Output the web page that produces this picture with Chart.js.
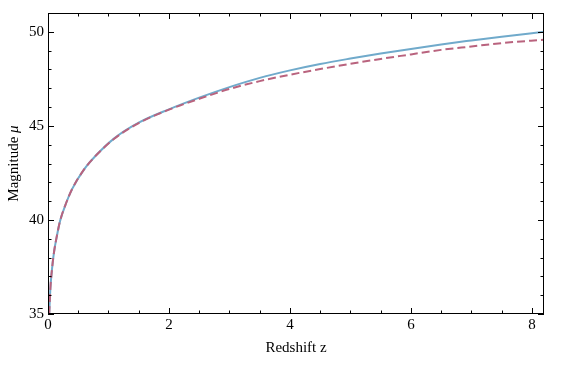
<!DOCTYPE html>
<html>
<head>
<meta charset="utf-8">
<script src="https://cdn.jsdelivr.net/npm/chart.js@4.4.1/dist/chart.umd.min.js"></script>
<style>
    html, body { margin: 0; padding: 0; background: #fff; }
    #wrap { width: 562px; height: 369px; }
</style>
</head>
<body>
<div id="wrap"><canvas id="chart"></canvas></div>
<script>
// values
const redshift = [0.02, 0.04, 0.07, 0.1, 0.15, 0.2, 0.3, 0.4, 0.6, 0.8, 1.1, 1.5, 2.0, 2.5, 3.0, 3.5, 4.0, 4.5, 5.0, 5.5, 6.0, 6.5, 7.0, 7.5, 8.2];
const muSolid = [35.0, 36.4, 37.5, 38.3, 39.2, 39.95, 40.9, 41.65, 42.7, 43.45, 44.35, 45.17, 45.88, 46.5, 47.06, 47.55, 47.95, 48.29, 48.58, 48.85, 49.09, 49.33, 49.54, 49.74, 50.0];
const muDashed = [35.0, 36.4, 37.5, 38.3, 39.2, 39.95, 40.9, 41.65, 42.7, 43.45, 44.33, 45.15, 45.86, 46.44, 46.96, 47.38, 47.72, 48.02, 48.3, 48.56, 48.8, 49.04, 49.22, 49.4, 49.58];
const xTickLabels = [0, 2, 4, 6, 8];
const yTickLabels = [35, 40, 45, 50];
const xMinorStep = 0.5;

const serif = "'Liberation Serif', 'DejaVu Serif', serif";

function toPoints(xs, ys) {
    return xs.map((x, i) => ({ x: x, y: ys[i] }));
}

// frame with inward ticks on all four sides + y title with italic mu
const frameTicks = {
    id: 'frameTicks',
    afterDraw(chart) {
        const ctx = chart.ctx;
        const area = chart.chartArea;
        const xs = chart.scales.x;
        const ys = chart.scales.y;
        ctx.save();
        ctx.strokeStyle = '#000';
        ctx.lineWidth = 1;
        ctx.strokeRect(area.left + 0.5, area.top + 0.5, area.right - area.left - 1, area.bottom - area.top - 1);
        ctx.beginPath();
        xs.ticks.forEach(t => {
            const px = Math.round(xs.getPixelForValue(t.value)) + 0.5;
            const len = xTickLabels.includes(t.value) ? 6 : 3.5;
            ctx.moveTo(px, area.bottom);
            ctx.lineTo(px, area.bottom - len);
            ctx.moveTo(px, area.top);
            ctx.lineTo(px, area.top + len);
        });
        ys.ticks.forEach(t => {
            const py = Math.round(ys.getPixelForValue(t.value)) + 0.5;
            const len = yTickLabels.includes(t.value) ? 6 : 3.5;
            ctx.moveTo(area.left, py);
            ctx.lineTo(area.left + len, py);
            ctx.moveTo(area.right, py);
            ctx.lineTo(area.right - len, py);
        });
        ctx.stroke();

        // y axis title: "Magnitude " + italic "μ"
        const main = 'Magnitude ';
        const sym = 'μ';
        ctx.fillStyle = '#000';
        ctx.textBaseline = 'middle';
        ctx.font = '15px ' + serif;
        const w1 = ctx.measureText(main).width;
        ctx.font = 'italic 15px ' + serif;
        const w2 = ctx.measureText(sym).width;
        const cy = (area.top + area.bottom) / 2;
        ctx.translate(14, cy);
        ctx.rotate(-Math.PI / 2);
        const start = -(w1 + w2) / 2;
        ctx.textAlign = 'left';
        ctx.font = '15px ' + serif;
        ctx.fillText(main, start, 0);
        ctx.font = 'italic 15px ' + serif;
        ctx.fillText(sym, start + w1, 0);
        ctx.restore();
    }
};

new Chart(document.getElementById('chart'), {
    type: 'line',
    data: {
        datasets: [{
            label: 'solid',
            data: toPoints(redshift, muSolid),
            borderColor: '#70aacb',
            borderWidth: 2,
            pointRadius: 0,
            fill: false,
            order: 1,
            cubicInterpolationMode: 'monotone'
        }, {
            label: 'dashed',
            data: toPoints(redshift, muDashed),
            borderColor: '#b9637e',
            borderWidth: 2,
            borderDash: [8, 4],
            pointRadius: 0,
            fill: false,
            order: 0,
            cubicInterpolationMode: 'monotone'
        }]
    },
    plugins: [frameTicks],
    options: {
        responsive: true,
        maintainAspectRatio: false,
        animation: false,
        layout: { padding: { top: 7, right: 18, left: 0, bottom: 0 } },
        plugins: {
            legend: { display: false },
            tooltip: { enabled: false }
        },
        scales: {
            x: {
                type: 'linear',
                min: 0,
                max: 8.2,
                afterFit: (s) => { s.height = 55; },
                afterBuildTicks: (s) => {
                    const t = [];
                    for (let v = 0; v <= s.max + 1e-9; v += xMinorStep) t.push({ value: v });
                    s.ticks = t;
                },
                grid: { display: false, drawTicks: false },
                border: { display: false },
                ticks: {
                    autoSkip: false,
                    maxRotation: 0,
                    padding: 2,
                    color: '#000',
                    font: { family: serif, size: 15 },
                    callback: (v) => xTickLabels.includes(v) ? String(v) : ''
                },
                title: {
                    display: true,
                    text: 'Redshift z',
                    color: '#000',
                    font: { family: serif, size: 15 },
                    padding: { top: 0, bottom: 12 }
                }
            },
            y: {
                type: 'linear',
                min: 35,
                max: 51,
                afterFit: (s) => { s.width = 48; },
                grid: { display: false, drawTicks: false },
                border: { display: false },
                ticks: {
                    stepSize: 1,
                    autoSkip: false,
                    padding: 4,
                    color: '#000',
                    font: { family: serif, size: 15 },
                    callback: (v) => yTickLabels.includes(v) ? String(v) : ''
                }
            }
        }
    }
});
</script>
</body>
</html>
